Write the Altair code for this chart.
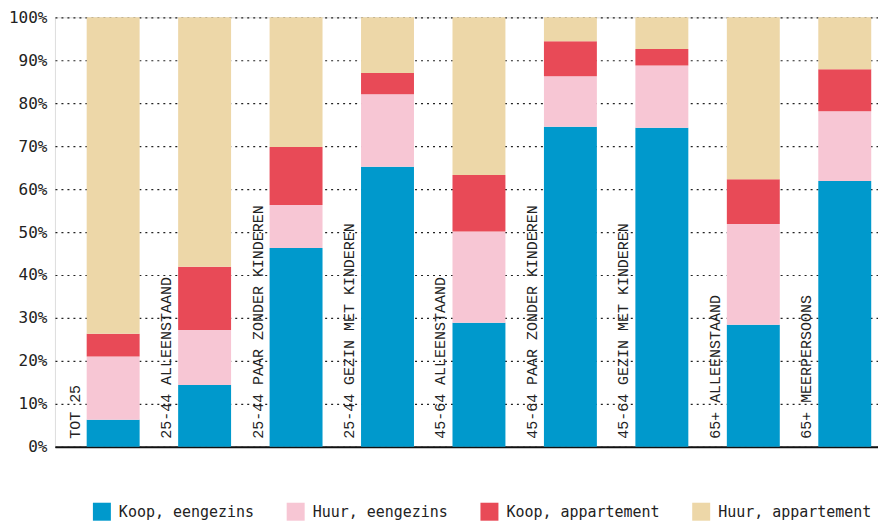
import altair as alt
import pandas as pd

categories = [
    "TOT 25",
    "25-44 ALLEENSTAAND",
    "25-44 PAAR ZONDER KINDEREN",
    "25-44 GEZIN MET KINDEREN",
    "45-64 ALLEENSTAAND",
    "45-64 PAAR ZONDER KINDEREN",
    "45-64 GEZIN MET KINDEREN",
    "65+ ALLEENSTAAND",
    "65+ MEERPERSOONS",
]
series_names = ["Koop, eengezins", "Huur, eengezins", "Koop, appartement", "Huur, appartement"]
series_colors = ["#0099cc", "#f7c6d4", "#e84a57", "#edd7a8"]

koop_eengezins = [6.3, 14.4, 46.3, 65.2, 28.9, 74.5, 74.3, 28.4, 61.9]
huur_eengezins = [14.7, 12.8, 10.0, 16.9, 21.2, 11.8, 14.5, 23.5, 16.2]
koop_appartement = [5.3, 14.7, 13.5, 4.9, 13.2, 8.1, 3.8, 10.4, 9.8]
huur_appartement = [73.7, 58.1, 30.2, 13.0, 36.7, 5.6, 7.4, 37.7, 12.1]

y_ticks = [0, 10, 20, 30, 40, 50, 60, 70, 80, 90, 100]

series_values = [koop_eengezins, huur_eengezins, koop_appartement, huur_appartement]
rows = []
for si, (name, vals) in enumerate(zip(series_names, series_values)):
    for cat, v in zip(categories, vals):
        rows.append({"cat": cat, "serie": name, "value": v, "idx": si})
df = pd.DataFrame(rows)
labels_df = pd.DataFrame({"cat": categories})

x_enc = alt.X(
    "cat:N",
    sort=categories,
    scale=alt.Scale(paddingInner=0, paddingOuter=0),
    axis=alt.Axis(labels=False, ticks=False, title=None, domain=True,
                  domainColor="#111111", domainWidth=2, grid=False),
)

bars = alt.Chart(df).mark_bar(width=53, xOffset=12.5).encode(
    x=x_enc,
    y=alt.Y(
        "value:Q",
        stack="zero",
        scale=alt.Scale(domain=[0, 100], nice=False),
        axis=alt.Axis(
            values=y_ticks,
            labelExpr="datum.value + '%'",
            grid=True,
            gridDash=[2, 4],
            gridColor="#222222",
            gridWidth=1.2,
            domain=False,
            ticks=False,
            title=None,
            labelFont="DejaVu Sans Mono",
            labelFontSize=16,
            labelColor="#222222",
            labelPadding=8,
        ),
    ),
    color=alt.Color(
        "serie:N",
        scale=alt.Scale(domain=series_names, range=series_colors),
        legend=alt.Legend(
            title=None,
            orient="none",
            legendX=38,
            legendY=486,
            direction="horizontal",
            symbolType="square",
            symbolSize=324,
            symbolStrokeWidth=0,
            symbolOpacity=1,
            labelFont="DejaVu Sans Mono",
            labelFontSize=15,
            labelColor="#222222",
            labelOffset=8,
            columnPadding=32,
            labelLimit=400,
        ),
    ),
    order=alt.Order("idx:Q", sort="ascending"),
)

labels = alt.Chart(labels_df).mark_text(
    angle=270,
    align="left",
    baseline="alphabetic",
    xOffset=-21,
    yOffset=-8,
    font="Liberation Mono",
    fontSize=15,
    color="#222222",
).encode(
    x=alt.X("cat:N", sort=categories),
    y=alt.datum(0),
    text="cat:N",
)

chart = (
    alt.layer(bars, labels)
    .properties(width=824, height=430, padding={"left": 0, "top": 1, "right": 0, "bottom": 0})
    .configure_view(stroke=None)
    .configure(background="white")
)

chart.save("out.html", embed_options={"renderer": "svg", "actions": False})
